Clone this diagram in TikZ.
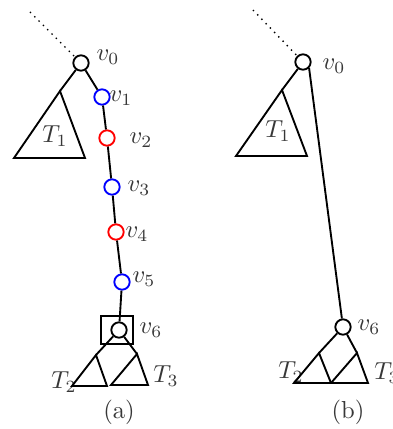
\documentclass[tikz,border=0pt]{standalone}
\usetikzlibrary{positioning}
\definecolor{labelgray}{RGB}{55,55,55}

\begin{document}
\begin{tikzpicture}[
    x=0.015cm, y=-0.015cm,
    vert/.style={draw, circle, thick, minimum size=0.23cm, inner sep=0pt},
    bvert/.style={vert, draw=blue},
    rvert/.style={vert, draw=red},
    marked/.style={draw, thick, minimum width=0.48cm, minimum height=0.41cm, inner sep=0pt},
    edge/.style={thick},
    tree/.style={thick, line join=miter},
    lab/.style={text=labelgray, inner sep=1pt, scale=1.05},
  ]
    \useasboundingbox (0,0) rectangle (392,429);

    % (a): the path v0 ... v6
    \node[vert] (v0a) at (81,63) {};
    \node[bvert] (v1a) at (102,97) {};
    \node[rvert] (v2a) at (107,138) {};
    \node[bvert] (v3a) at (112,187) {};
    \node[rvert] (v4a) at (116,232) {};
    \node[bvert] (v5a) at (122,282) {};
    \node[vert] (v6a) at (119,330) {};
    \node[marked] (boxa) at (117,330) {};
    \coordinate (dota) at (30,12);
    \coordinate (t1atop) at (60,91);
    \coordinate (t1aleft) at (14,158);
    \coordinate (t1aright) at (85,158);
    \coordinate (t2atop) at (96,355);
    \coordinate (t2aleft) at (72,386);
    \coordinate (t2aright) at (107,386);
    \coordinate (t3atop) at (137,354);
    \coordinate (t3aleft) at (111,385);
    \coordinate (t3aright) at (148,385);

    \node[lab] (lv0a) at (108,57) {$v_0$};
    \node[lab] (lv1a) at (121,98) {$v_1$};
    \node[lab] (lv2a) at (141,140) {$v_2$};
    \node[lab] (lv3a) at (139,188) {$v_3$};
    \node[lab] (lv4a) at (137,234) {$v_4$};
    \node[lab] (lv5a) at (144,279) {$v_5$};
    \node[lab] (lv6a) at (151,330) {$v_6$};
    \node[lab] (lt1a) at (55,136) {$T_1$};
    \node[lab] (lt2a) at (64,382) {$T_2$};
    \node[lab] (lt3a) at (166,376) {$T_3$};
    \node[lab] (capa) at (119,412) {(a)};

    \draw[dotted, semithick] (dota) -- (v0a);
    \draw[edge] (v0a) -- (t1atop);
    \draw[tree] (t1atop) -- (t1aleft) -- (t1aright) -- cycle;
    \draw[edge] (v0a) -- (v1a);
    \draw[edge] (v1a) -- (v2a);
    \draw[edge] (v2a) -- (v3a);
    \draw[edge] (v3a) -- (v4a);
    \draw[edge] (v4a) -- (v5a);
    \draw[edge] (v5a) -- (v6a);
    \draw[edge] (v6a) -- (t2atop);
    \draw[edge] (v6a) -- (t3atop);
    \draw[tree] (t2atop) -- (t2aleft) -- (t2aright) -- cycle;
    \draw[tree] (t3atop) -- (t3aleft) -- (t3aright) -- cycle;

    % (b): the path contracted
    \node[vert] (v0b) at (303,62) {};
    \node[vert] (v6b) at (343,327) {};
    \coordinate (dotb) at (253,10);
    \coordinate (t1btop) at (282,90);
    \coordinate (t1bleft) at (236,156);
    \coordinate (t1bright) at (307,156);
    \coordinate (t2btop) at (319,353);
    \coordinate (t2bleft) at (294,383);
    \coordinate (t2bright) at (331,383);
    \coordinate (t3btop) at (357,353);
    \coordinate (t3bleft) at (331,383);
    \coordinate (t3bright) at (368,383);

    \node[lab] (lv0b) at (334,66) {$v_0$};
    \node[lab] (lv6b) at (369,327) {$v_6$};
    \node[lab] (lt1b) at (278,131) {$T_1$};
    \node[lab] (lt2b) at (291,372) {$T_2$};
    \node[lab] (lt3b) at (387,373) {$T_3$};
    \node[lab] (capb) at (348,412) {(b)};

    \draw[dotted, semithick] (dotb) -- (v0b);
    \draw[edge] (v0b) -- (t1btop);
    \draw[tree] (t1btop) -- (t1bleft) -- (t1bright) -- cycle;
    \draw[edge] (v0b.south east) -- (v6b);
    \draw[edge] (v6b) -- (t2btop);
    \draw[edge] (v6b) -- (t3btop);
    \draw[tree] (t2btop) -- (t2bleft) -- (t2bright) -- cycle;
    \draw[tree] (t3btop) -- (t3bleft) -- (t3bright) -- cycle;
  \end{tikzpicture}
\end{document}
